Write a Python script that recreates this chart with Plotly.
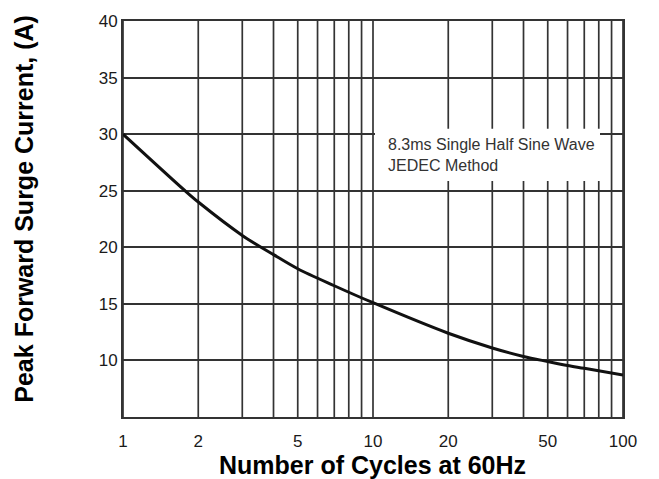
import plotly.graph_objects as go

# Data
cycles = [1, 1.77, 2, 3, 4, 5, 7, 10, 20, 30, 40, 50, 60, 70, 100]
surge_current = [30, 25, 24, 21.05, 19.35, 18.1, 16.6, 15.1, 12.4, 11.1, 10.35, 9.9, 9.55, 9.3, 8.7]

x_tickvals = [1, 2, 5, 10, 20, 50, 100]
x_ticktext = ["1", "2", "5", "10", "20", "50", "100"]
x_gridvals = [1, 2, 3, 4, 5, 6, 7, 8, 9, 10, 20, 30, 40, 50, 60, 70, 80, 90, 100]
y_tickvals = [10, 15, 20, 25, 30, 35, 40]

GRID = "#333333"
SANS = "Liberation Sans, Arial, Helvetica, sans-serif"

fig = go.Figure()

fig.add_trace(go.Scatter(
    x=cycles, y=surge_current, mode="lines",
    line=dict(color="#111111", width=3, shape="spline", smoothing=0.9),
    hoverinfo="skip", showlegend=False,
))

fig.update_xaxes(
    type="log", range=[0, 2],
    tickvals=x_tickvals, ticktext=x_ticktext,
    showgrid=False, zeroline=False, ticks="",
    showline=True, mirror=True, linecolor=GRID, linewidth=1.7,
    tickfont=dict(family=SANS, size=17, color="#1a1a1a"),
    ticklabelstandoff=8,
)
fig.update_yaxes(
    range=[5, 40],
    tickvals=y_tickvals,
    showgrid=True, gridcolor=GRID, gridwidth=1.7,
    zeroline=False, ticks="",
    showline=True, mirror=True, linecolor=GRID, linewidth=1.7,
    tickfont=dict(family=SANS, size=17, color="#1a1a1a"),
    ticklabelstandoff=0,
)

# Vertical log grid lines
for gv in x_gridvals:
    fig.add_vline(x=gv, line=dict(color=GRID, width=1.7), layer="below")

# White box behind the note (paper coordinates)
fig.add_shape(type="rect", xref="paper", yref="paper",
              x0=0.504, x1=0.954, y0=0.596, y1=0.728,
              fillcolor="white", line=dict(width=0), layer="above")

fig.add_annotation(
    xref="paper", yref="paper", x=0.526, y=0.662,
    xanchor="left", yanchor="middle", align="left", showarrow=False,
    text="8.3ms Single Half Sine Wave<br>JEDEC Method",
    font=dict(family=SANS, size=16, color="#333333"),
)

# Axis titles
fig.add_annotation(
    xref="paper", yref="paper", x=0.498, y=-0.12,
    xanchor="center", yanchor="middle", showarrow=False,
    text="<b>Number of Cycles at 60Hz</b>",
    font=dict(family=SANS, size=25, color="#000000"),
)
fig.add_annotation(
    xref="paper", yref="paper", x=-0.198, y=0.526,
    xanchor="center", yanchor="middle", showarrow=False, textangle=-90,
    text="<b>Peak Forward Surge Current, (A)</b>",
    font=dict(family=SANS, size=25, color="#000000"),
)

fig.update_layout(
    width=659, height=479, autosize=False,
    margin=dict(l=123, r=36, t=16, b=62),
    paper_bgcolor="white", plot_bgcolor="white",
)

fig.write_html("out.html", config={"displayModeBar": False},
               post_script="document.body.style.margin='0';")
